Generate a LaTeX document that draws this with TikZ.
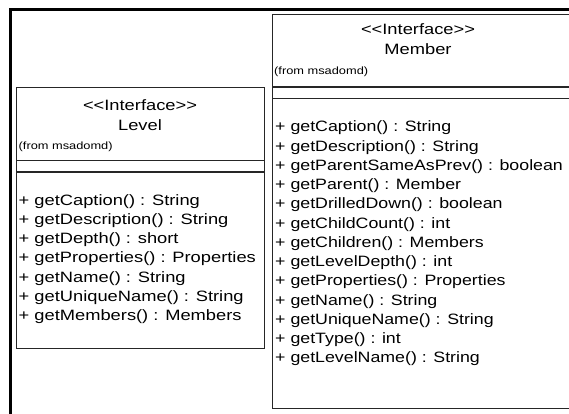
\documentclass[tikz,border=0pt]{standalone}
\usepackage{fontspec}
\setmainfont[FakeStretch=1.22]{Liberation Sans}
\newfontfamily\memberfont[FakeStretch=1.185]{Liberation Sans}
\begin{document}
\begin{tikzpicture}[x=1pt,y=-1pt,
  outerframe/.style={line width=3pt, black},
  classbox/.style={draw=black!85, line width=1.2pt, anchor=north west, inner sep=0pt},
  sepline/.style={draw=black!85, line width=1.2pt},
  title/.style={inner sep=0pt, font=\fontsize{15}{15}\selectfont},
  pkg/.style={anchor=west, inner sep=0pt, font=\fontsize{10.5}{10.5}\selectfont},
  op/.style={anchor=west, inner sep=0pt, font=\fontsize{15}{15}\selectfont},
  mop/.style={anchor=west, inner sep=0pt, font=\memberfont\fontsize{15}{15}\selectfont}]
  \clip (0,0) rectangle (569,413);
  \fill[white] (0,0) rectangle (569,413);
  % surrounding diagram frame
  \draw[outerframe] (10.5,9.5) rectangle (620,460);

  % Level interface
  \node[classbox, minimum width=248pt, minimum height=261pt] (level) at (16,87) {};
  \draw[sepline] (16,160.5) -- (264,160.5);
  \draw[sepline] (16,172) -- (264,172);
  \node[title] (lvstereo) at (140,105) {{<}{<}Interface{>}{>}};
  \node[title] (lvname) at (140,125) {Level};
  \node[pkg] (lvpkg) at (18.5,147) {(from msadomd)};
  \foreach \t [count=\i from 0] in {%
      + getCaption() : String,
      + getDescription() : String,
      + getDepth() : short,
      + getProperties() : Properties,
      + getName() : String,
      + getUniqueName() : String,
      + getMembers() : Members}
    \node[op] (lvop\i) at (18.5,{201.5+19.2*\i}) {\t};

  % Member interface
  \node[classbox, minimum width=320pt, minimum height=394.5pt] (member) at (272,13.5) {};
  \draw[sepline] (272,87) -- (600,87);
  \draw[sepline] (272,98.5) -- (600,98.5);
  \node[title] (mbstereo) at (418,29) {{<}{<}Interface{>}{>}};
  \node[title] (mbname) at (418,49) {Member};
  \node[pkg] (mbpkg) at (274,72) {(from msadomd)};
  \foreach \t [count=\i from 0] in {%
      + getCaption() : String,
      + getDescription() : String,
      + getParentSameAsPrev() : boolean,
      + getParent() : Member,
      + getDrilledDown() : boolean,
      + getChildCount() : int,
      + getChildren() : Members,
      + getLevelDepth() : int,
      + getProperties() : Properties,
      + getName() : String,
      + getUniqueName() : String,
      + getType() : int,
      + getLevelName() : String}
    \node[mop] (mbop\i) at (275,{128+19.25*\i}) {\t};
\end{tikzpicture}
\end{document}
